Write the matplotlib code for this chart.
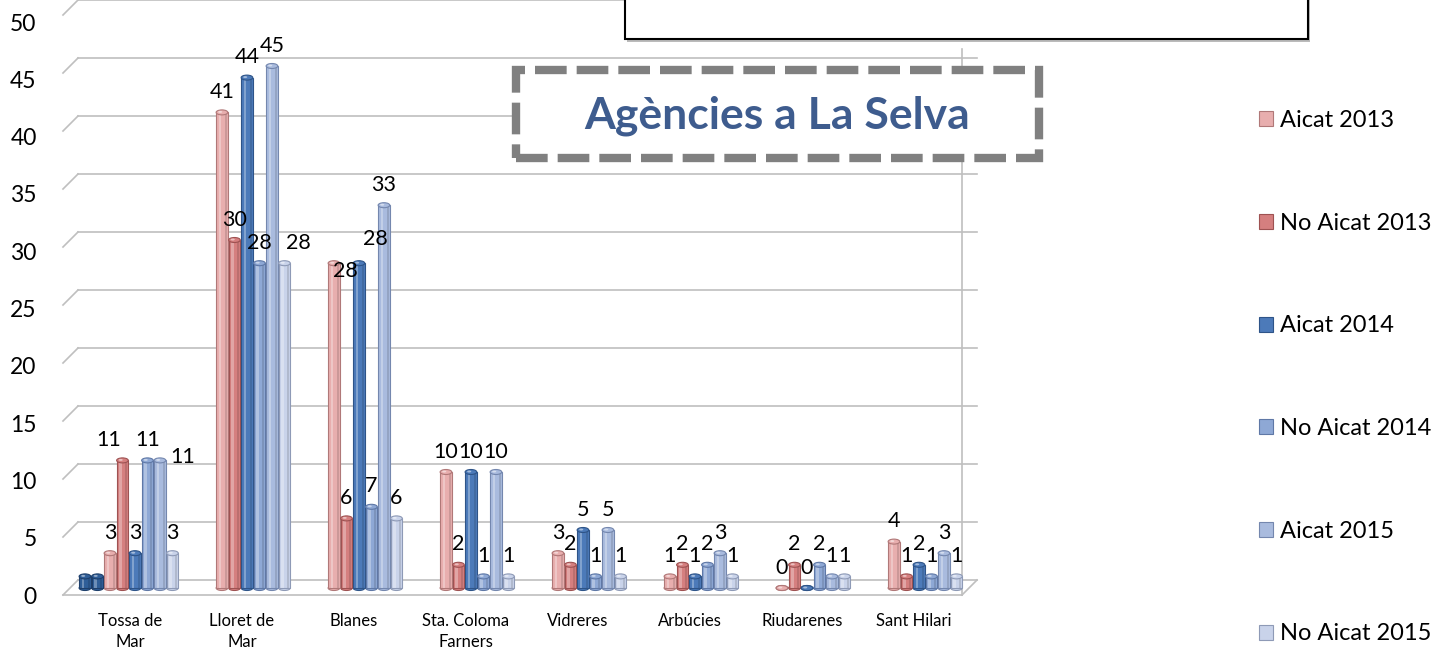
import matplotlib
matplotlib.use('Agg')
import matplotlib.pyplot as plt
import matplotlib.patches as mpatches
import numpy as np

plt.rcParams['font.family'] = ['Lato', 'DejaVu Sans']

# data
towns = ['Tossa de\nMar', 'Lloret de\nMar', 'Blanes', 'Sta. Coloma\nFarners',
         'Vidreres', 'Arbúcies', 'Riudarenes', 'Sant Hilari']
series_names = ['Aicat 2013', 'No Aicat 2013', 'Aicat 2014',
                'No Aicat 2014', 'Aicat 2015', 'No Aicat 2015']
aicat_2013 = [3, 41, 28, 10, 3, 1, 0, 4]
no_aicat_2013 = [11, 30, 6, 2, 2, 2, 2, 1]
aicat_2014 = [3, 44, 28, 10, 5, 1, 0, 2]
no_aicat_2014 = [11, 28, 7, 1, 1, 2, 2, 1]
aicat_2015 = [11, 45, 33, 10, 5, 3, 1, 3]
no_aicat_2015 = [3, 28, 6, 1, 1, 1, 1, 1]
tossa_extra = [1, 1]  # two stray dark bars in front of Tossa
y_ticks = [0, 5, 10, 15, 20, 25, 30, 35, 40, 45, 50]

series = [aicat_2013, no_aicat_2013, aicat_2014, no_aicat_2014, aicat_2015, no_aicat_2015]
colors = ['#E8AEAE', '#D57F7F', '#4C7AB9', '#8EA8D5', '#A9BBDE', '#C9D3EA']
edges = ['#B07878', '#9E5252', '#2E5488', '#5F78A6', '#7487AE', '#8E9AB6']

# a few labels nudged like excel does, (town, series): (dx, dy)
label_nudge = {(0, 4): (0.2, -1.5), (0, 1): (-0.12, 0.0),
               (1, 5): (0.12, 0.0), (2, 0): (0.1, -2.4), (2, 2): (0.15, 0.3)}

W, H = 1437, 651
fig = plt.figure(figsize=(W / 100, H / 100), dpi=100)

# px -> figure fraction helpers
def fx(px):
    return px / W

def fy(py):
    return 1 - py / H

ppu = 11.6   # pixels per value unit
ppx = 112.0  # pixels per category
x0 = 130.0   # pixel of first category label
ax = fig.add_axes([fx(63), fy(595), fx(x0 + 7.6 * ppx) - fx(63), (595 - 0) / H])
ax.set_xlim((63 - x0) / ppx, 7.6)
ax.set_ylim(-0.603, 50.69)
for s in ax.spines.values():
    s.set_visible(False)


def px2x(px):
    return (px - x0) / ppx


# 3d-ish wall gridlines
back = 8 / ppu
front = -7 / ppu
grid_c = '#BFBFBF'
for v in y_ticks:
    ax.plot([px2x(63), px2x(78)], [v + front, v + back], color=grid_c, lw=1.2, clip_on=False)
    ax.plot([px2x(78), px2x(977)], [v + back, v + back], color=grid_c, lw=1.2, clip_on=False)
# floor front edge + right side
ax.plot([px2x(63), px2x(962)], [front, front], color=grid_c, lw=1.2, clip_on=False)
ax.plot([px2x(962), px2x(977)], [front, back], color=grid_c, lw=1.2, clip_on=False)
ax.plot([px2x(962), px2x(962)], [front, 46.5], color=grid_c, lw=1.2, clip_on=False)

slot = 12.5 / ppx
bw = 0.104
cap_h = 5 / ppu
x = np.arange(len(towns))


def cylinder(xc, v, face, edge, label=None):
    bar = ax.bar(xc, v, width=bw, color=face, edgecolor=edge, linewidth=0.8, zorder=3, label=label)
    # highlight stripe + shaded right side
    ax.bar(xc - bw * 0.18, v, width=bw * 0.22, color='white', alpha=0.3, linewidth=0, zorder=4)
    ax.bar(xc + bw * 0.32, v, width=bw * 0.2, color='black', alpha=0.12, linewidth=0, zorder=4)
    ax.add_patch(mpatches.Ellipse((xc, 0), bw, cap_h, facecolor=face, edgecolor=edge, lw=0.8, zorder=2))
    ax.add_patch(mpatches.Ellipse((xc, v), bw, cap_h, facecolor=face, edgecolor=edge, lw=0.8, zorder=5))
    ax.add_patch(mpatches.Ellipse((xc - bw * 0.15, v + cap_h * 0.1), bw * 0.35, cap_h * 0.4,
                                  facecolor='white', alpha=0.5, lw=0, zorder=6))
    return bar


handles = []
for j, vals in enumerate(series):
    xs = x + 0.1 + (j - 2.5) * slot
    for i, (xc, v) in enumerate(zip(xs, vals)):
        h = cylinder(xc, v, colors[j], edges[j], label=series_names[j] if i == 0 else None)
        if i == 0:
            handles.append(h)
        ddx, ddy = label_nudge.get((i, j), (0, 0))
        ax.text(xc + ddx, v + 0.9 + ddy, str(v), ha='center', va='bottom', fontsize=15.5, zorder=7)

for k, v in enumerate(tossa_extra):
    cylinder(0.1 + (-4.5 + k) * slot, v, '#2F5E98', '#1E3F6B')

ax.set_xticks(x, towns, fontsize=12, linespacing=1.35)
ax.tick_params(axis='x', length=0, pad=13)
ytick_pos = [front + t * (49.39 / 50) for t in y_ticks]
ax.set_yticks(ytick_pos, [str(t) for t in y_ticks], fontsize=16.5)
ax.tick_params(axis='y', length=0, pad=19)

# legend
leg = fig.legend(handles=handles, labels=series_names, loc='upper left',
                 bbox_to_anchor=(fx(1259), fy(110)), frameon=False, fontsize=17,
                 handlelength=0.6, handleheight=0.6, handletextpad=0.3,
                 labelspacing=3.46, borderpad=0, borderaxespad=0)

# title box
fig.patches.append(mpatches.Rectangle((fx(516), fy(158)), fx(1039) - fx(516), (158 - 70) / H,
                                      transform=fig.transFigure, fill=True, facecolor='white',
                                      edgecolor='#808080', lw=6, linestyle=(0, (3.8, 1.2)), zorder=10))
fig.text(fx(777), fy(116), 'Agències a La Selva', ha='center', va='center',
         fontsize=32, fontweight='bold', color='#3E5C8E', zorder=11)

# empty black box at the top
fig.patches.append(mpatches.Rectangle((fx(627), fy(42)), fx(1310) - fx(627), 60 / H,
                                      transform=fig.transFigure, facecolor='#BBBBBB',
                                      edgecolor='none', zorder=9))
fig.patches.append(mpatches.Rectangle((fx(625), fy(39)), fx(1308) - fx(625), 60 / H,
                                      transform=fig.transFigure, facecolor='white',
                                      edgecolor='black', lw=1.5, zorder=10))

fig.savefig('out.png', dpi=100)
